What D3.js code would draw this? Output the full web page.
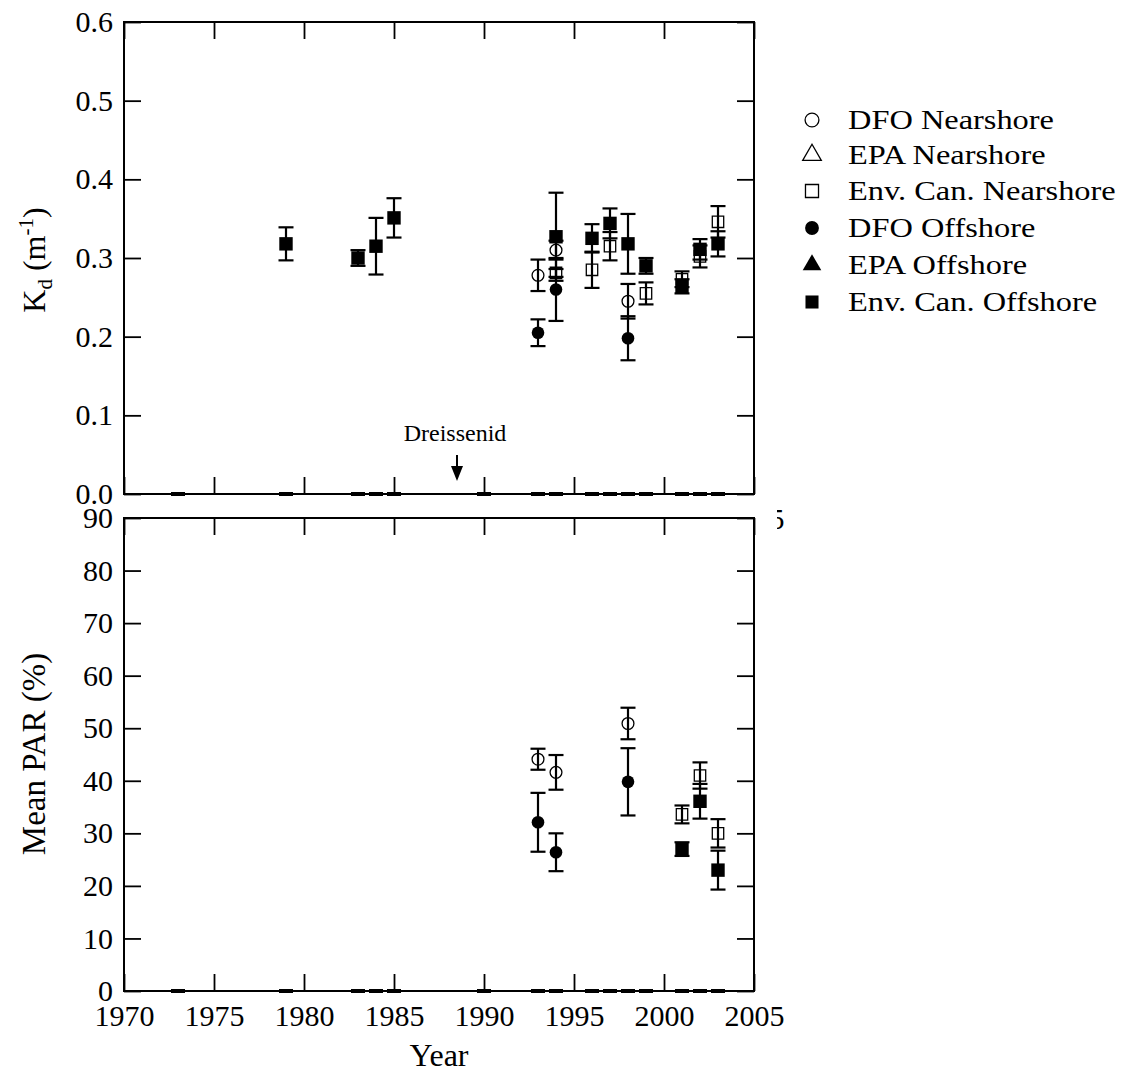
<!DOCTYPE html>
<html><head><meta charset="utf-8">
<script src="https://cdn.jsdelivr.net/npm/d3@7"></script>
<style>
html,body{margin:0;padding:0;background:#fff;}
svg, svg text{font-family:"Liberation Serif","Times New Roman",serif !important;}
</style></head>
<body>
<svg id="c" width="1128" height="1074"></svg>
<script>
// ---------- data ----------
const xTicks = [1970,1975,1980,1985,1990,1995,2000,2005];
const kdTicks = [0.0,0.1,0.2,0.3,0.4,0.5,0.6];
const parTicks = [0,10,20,30,40,50,60,70,80,90];
const zeroYears = [1973,1979,1983,1984,1985,1990,1993,1994,1996,1997,1998,1999,2001,2002,2003];

const kdDfoNear = [[1993,0.278,0.020],[1994,0.310,0.012],[1998,0.245,0.022]];
const kdEnvNear = [[1994,0.281,0.005],[1996,0.285,0.023],[1997,0.315,0.018],[1999,0.255,0.014],[2001,0.273,0.010],[2002,0.302,0.014],[2003,0.346,0.020]];
const kdDfoOff  = [[1993,0.205,0.017],[1994,0.260,0.040],[1998,0.198,0.028]];
const kdEnvOff  = [[1979,0.318,0.021],[1983,0.300,0.010],[1984,0.315,0.036],[1985,0.351,0.025],[1994,0.327,0.056],[1996,0.325,0.018],[1997,0.344,0.019],[1998,0.318,0.038],[1999,0.290,0.010],[2001,0.264,0.009],[2002,0.311,0.013],[2003,0.318,0.016]];

const parDfoNear = [[1993,44.1,2.0],[1994,41.6,3.3],[1998,50.9,3.0]];
const parDfoOff  = [[1993,32.1,5.6],[1994,26.4,3.6],[1998,39.8,6.4]];
const parEnvNear = [[2001,33.6,1.7],[2002,41.0,2.5],[2003,30.0,2.7]];
const parEnvOff  = [[2001,27.0,1.3],[2002,36.1,3.3],[2003,23.0,3.7]];

const legendLabels = ["DFO Nearshore","EPA Nearshore","Env. Can. Nearshore","DFO Offshore","EPA Offshore","Env. Can. Offshore"];
const legendShapes = ["circle","triangle","square","circle","triangle","square"];
const legendFilled = [false,false,false,true,true,true];

// ---------- layout ----------
const FONT = "'Liberation Serif','Times New Roman',serif";
const svg = d3.select("#c");
const L = 124, R = 754;
const x = d3.scaleLinear().domain([1970,2005]).range([L,R]);
const yTop = d3.scaleLinear().domain([0,0.6]).range([494,22]);
const yBot = d3.scaleLinear().domain([0,90]).range([991,518]);
const TICK = 17, FS = 30;

function symPath(shape, size){
  const t = shape==="circle"?d3.symbolCircle:shape==="square"?d3.symbolSquare:d3.symbolTriangle;
  return d3.symbol().type(t).size(size)();
}

function panel(g, y, yt, fmt){
  const top = y.range()[1], bot = y.range()[0];
  const ax = g.append("g").attr("transform",`translate(0,${bot})`)
    .call(d3.axisBottom(x).tickValues(xTicks).tickSize(-TICK).tickPadding(14).tickFormat(d3.format("d")));
  const at = g.append("g").attr("transform",`translate(0,${top})`)
    .call(d3.axisTop(x).tickValues(xTicks).tickSize(-TICK).tickFormat(""));
  const al = g.append("g").attr("transform",`translate(${L},0)`)
    .call(d3.axisLeft(y).tickValues(yt).tickSize(-TICK).tickPadding(11).tickFormat(fmt));
  const ar = g.append("g").attr("transform",`translate(${R},0)`)
    .call(d3.axisRight(y).tickValues(yt).tickSize(-TICK).tickFormat(""));
  [ax,at,al,ar].forEach(a=>{
    a.attr("font-family",null).style("font-family",FONT).attr("font-size",FS);
    a.select(".domain").remove();
    a.selectAll("line").attr("stroke","#000").attr("stroke-width",1.8);
    a.selectAll("text").attr("fill","#000").style("font-family",FONT).style("font-size",FS+"px");
  });
  g.append("rect").attr("x",L).attr("y",top).attr("width",R-L).attr("height",bot-top)
    .attr("fill","none").attr("stroke","#000").attr("stroke-width",2);
  g.append("g").selectAll("line").data(zeroYears).join("line")
    .attr("x1",d=>x(d)-7).attr("x2",d=>x(d)+7).attr("y1",y(0)).attr("y2",y(0))
    .attr("stroke","#000").attr("stroke-width",4);
}

function series(g, y, data, shape, filled, size){
  const s = g.append("g");
  const eb = s.selectAll("g.eb").data(data).join("g");
  eb.append("line").attr("x1",d=>x(d[0])).attr("x2",d=>x(d[0]))
    .attr("y1",d=>y(d[1]-d[2])).attr("y2",d=>y(d[1]+d[2])).attr("stroke","#000").attr("stroke-width",2.2);
  eb.append("line").attr("x1",d=>x(d[0])-7.5).attr("x2",d=>x(d[0])+7.5)
    .attr("y1",d=>y(d[1]-d[2])).attr("y2",d=>y(d[1]-d[2])).attr("stroke","#000").attr("stroke-width",2.2);
  eb.append("line").attr("x1",d=>x(d[0])-7.5).attr("x2",d=>x(d[0])+7.5)
    .attr("y1",d=>y(d[1]+d[2])).attr("y2",d=>y(d[1]+d[2])).attr("stroke","#000").attr("stroke-width",2.2);
  s.selectAll("path.m").data(data).join("path")
    .attr("transform",d=>`translate(${x(d[0])},${y(d[1])})`)
    .attr("d",symPath(shape,size))
    .attr("fill",filled?"#000":"none").attr("stroke","#000").attr("stroke-width",filled?0:1.3);
}

function txt(sel){ return sel.style("font-family",FONT).attr("fill","#000"); }

// ---------- top panel ----------
const gTop = svg.append("g");
panel(gTop, yTop, kdTicks, d3.format(".1f"));
series(gTop, yTop, kdEnvNear, "square", false, 130);
series(gTop, yTop, kdDfoNear, "circle", false, 110);
series(gTop, yTop, kdDfoOff, "circle", true, 125);
series(gTop, yTop, kdEnvOff, "square", true, 180);

const ax0 = x(1988.5);
txt(gTop.append("text")).attr("x",ax0-2).attr("y",441).attr("text-anchor","middle")
  .style("font-size","24px").text("Dreissenid");
gTop.append("line").attr("x1",ax0).attr("x2",ax0).attr("y1",455).attr("y2",468)
  .attr("stroke","#000").attr("stroke-width",2);
gTop.append("path").attr("d",`M${ax0-6},466 L${ax0+6},466 L${ax0},481 Z`).attr("fill","#000");

const kdLab = txt(svg.append("text")).attr("transform","translate(45,260) rotate(-90)")
  .attr("text-anchor","middle").style("font-size","32px");
kdLab.append("tspan").text("K");
kdLab.append("tspan").style("font-size","21px").attr("dy",7).text("d");
kdLab.append("tspan").attr("dy",-7).text(" (m");
kdLab.append("tspan").style("font-size","21px").attr("dy",-12).text("-1");
kdLab.append("tspan").attr("dy",12).text(")");

// ---------- bottom panel ----------
const gBot = svg.append("g");
gBot.append("rect").attr("x",60).attr("y",507).attr("width",717).attr("height",493).attr("fill","#fff");
panel(gBot, yBot, parTicks, d3.format("d"));
series(gBot, yBot, parEnvNear, "square", false, 130);
series(gBot, yBot, parDfoNear, "circle", false, 110);
series(gBot, yBot, parDfoOff, "circle", true, 125);
series(gBot, yBot, parEnvOff, "square", true, 180);

txt(svg.append("text")).attr("transform","translate(45,754) rotate(-90)")
  .attr("text-anchor","middle").style("font-size","33px").text("Mean PAR (%)");
txt(svg.append("text")).attr("x",(L+R)/2).attr("y",1066).attr("text-anchor","middle")
  .style("font-size","32px").text("Year");

// ---------- legend ----------
const lg = svg.append("g");
const rowY = [120,155,191,228,265,302];
legendLabels.forEach((lab,i)=>{
  lg.append("path").attr("transform",`translate(812,${rowY[i]})`)
    .attr("d",symPath(legendShapes[i], legendShapes[i]==="square"?170:150))
    .attr("fill",legendFilled[i]?"#000":"none").attr("stroke","#000").attr("stroke-width",legendFilled[i]?0:1.3);
  txt(lg.append("text")).attr("transform",`translate(848,${rowY[i]+9}) scale(1.2,1)`)
    .style("font-size","27px").text(lab);
});
</script>
</body></html>
